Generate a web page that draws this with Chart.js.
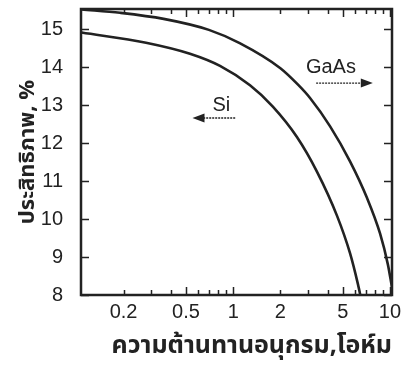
<!doctype html>
<html lang="th">
<head>
<meta charset="utf-8">
<title>Efficiency vs series resistance</title>
<script src="https://cdn.jsdelivr.net/npm/chart.js@4.4.0/dist/chart.umd.min.js"></script>
<style>
    body { margin: 0; background: #fff; }
</style>
</head>
<body>
<canvas id="chart" width="403" height="365"></canvas>

<script>
    // series resistance (ohm) and efficiency (%)
    var gaasR = [0.108, 0.19, 0.36, 0.7, 1.1, 2.0, 2.6, 3.1, 4.15, 5.56, 7.13, 8.64, 9.7, 10.3];
    var gaasEff = [15.52, 15.43, 15.27, 14.98, 14.63, 13.97, 13.53, 13.18, 12.44, 11.52, 10.56, 9.62, 8.80, 8.20];

    var siR = [0.108, 0.278, 0.53, 0.824, 1.28, 1.79, 2.55, 3.42, 4.59, 5.56, 6.25, 6.53];
    var siEff = [14.91, 14.64, 14.35, 14.03, 13.52, 12.96, 12.16, 11.25, 10.09, 9.10, 8.28, 7.92];

    var xTickLabels = [0.2, 0.5, 1, 2, 5, 10];
    var xMinorTicks = [0.2, 0.3, 0.4, 0.5, 0.6, 0.7, 0.8, 0.9, 1, 2, 3, 4, 5, 6, 7, 8, 9, 10];
    var xLongTicks = [0.5, 1, 5, 10];
    var yTickLabels = [8, 9, 10, 11, 12, 13, 14, 15];

    var ink = '#222';
    var tickFont = { family: "'Liberation Sans', Arial, sans-serif", size: 20 };
    var thaiFont = "'Noto Sans Thai', 'Noto Sans Thai UI', Loma, Garuda, 'Tlwg Typo', sans-serif";

    function points(xs, ys) {
        return xs.map(function(v, i) { return { x: v, y: ys[i] }; });
    }

    // frame with inward ticks on all four sides, plus the GaAs / Si labels
    var frameTicks = {
        id: 'frameTicks',
        afterDatasetsDraw: function(chart) {
            var ctx = chart.ctx;
            var a = chart.chartArea;
            var x = chart.scales.x;
            var y = chart.scales.y;
            ctx.save();
            ctx.strokeStyle = ink;
            ctx.lineWidth = 1.5;
            ctx.beginPath();
            xMinorTicks.forEach(function(v) {
                var px = Math.round(x.getPixelForValue(v)) + 0.5;
                var len = xLongTicks.indexOf(v) >= 0 ? 8 : 5;
                ctx.moveTo(px, a.bottom);
                ctx.lineTo(px, a.bottom - len);
                ctx.moveTo(px, a.top);
                ctx.lineTo(px, a.top + len);
            });
            yTickLabels.forEach(function(v) {
                var py = Math.round(y.getPixelForValue(v)) + 0.5;
                ctx.moveTo(a.left, py);
                ctx.lineTo(a.left + 8, py);
                ctx.moveTo(a.right, py);
                ctx.lineTo(a.right - 8, py);
            });
            ctx.stroke();

            ctx.lineWidth = 2.5;
            ctx.strokeRect(a.left, a.top, a.right - a.left, a.bottom - a.top);

            // labels and arrows
            ctx.fillStyle = ink;
            ctx.font = "20px 'Liberation Sans', Arial, sans-serif";
            ctx.textAlign = 'center';
            ctx.textBaseline = 'middle';
            ctx.fillText('GaAs', x.getPixelForValue(4.2), y.getPixelForValue(14.0));
            ctx.fillText('Si', x.getPixelForValue(0.84), y.getPixelForValue(13.0));

            arrow(ctx, x.getPixelForValue(3.38), x.getPixelForValue(7.77), y.getPixelForValue(13.58));
            arrow(ctx, x.getPixelForValue(1.03), x.getPixelForValue(0.55), y.getPixelForValue(12.66));
            ctx.restore();
        }
    };

    function arrow(ctx, x0, x1, py) {
        var dir = x1 > x0 ? 1 : -1;
        ctx.lineWidth = 1.3;
        ctx.setLineDash([2, 1]);
        ctx.beginPath();
        ctx.moveTo(x0, py);
        ctx.lineTo(x1 - dir * 8, py);
        ctx.stroke();
        ctx.setLineDash([]);
        ctx.beginPath();
        ctx.moveTo(x1, py);
        ctx.lineTo(x1 - dir * 12, py - 4.5);
        ctx.lineTo(x1 - dir * 12, py + 4.5);
        ctx.closePath();
        ctx.fill();
    }

    var lineStyle = {
        borderColor: ink,
        borderWidth: 2.6,
        pointRadius: 0,
        showLine: true,
        fill: false,
        cubicInterpolationMode: 'monotone'
    };

    var config = {
        type: 'scatter',
        data: {
            datasets: [
                Object.assign({ label: 'GaAs', data: points(gaasR, gaasEff) }, lineStyle),
                Object.assign({ label: 'Si', data: points(siR, siEff) }, lineStyle)
            ]
        },
        options: {
            responsive: false,
            animation: false,
            layout: { padding: { top: 9, right: 11, left: 0, bottom: 0 } },
            plugins: {
                legend: { display: false },
                tooltip: { enabled: false }
            },
            scales: {
                x: {
                    type: 'logarithmic',
                    min: 0.107,
                    max: 10.3,
                    grid: { display: false },
                    border: { display: false },
                    afterBuildTicks: function(scale) {
                        scale.ticks = xTickLabels.map(function(v) { return { value: v }; });
                    },
                    afterFit: function(scale) {
                        scale.height = 70;
                        scale.paddingLeft = 0;
                        scale.paddingRight = 0;
                    },
                    ticks: {
                        color: ink,
                        font: tickFont,
                        padding: -3,
                        maxRotation: 0,
                        autoSkip: false,
                        callback: function(v) { return String(v); }
                    },
                    title: {
                        display: true,
                        text: 'ความต้านทานอนุกรม,โอห์ม',
                        color: ink,
                        align: 'end',
                        font: { family: thaiFont, size: 25, weight: 'bold' },
                        padding: { top: 0, bottom: 2 }
                    }
                },
                y: {
                    min: 8,
                    max: 15.53,
                    grid: { display: false },
                    border: { display: false },
                    afterBuildTicks: function(scale) {
                        scale.ticks = yTickLabels.map(function(v) { return { value: v }; });
                    },
                    afterFit: function(scale) {
                        scale.width = 81;
                        scale.paddingTop = 0;
                        scale.paddingBottom = 0;
                    },
                    ticks: {
                        color: ink,
                        font: tickFont,
                        padding: 10
                    },
                    title: {
                        display: true,
                        text: 'ประสิทธิภาพ, %',
                        color: ink,
                        font: { family: thaiFont, size: 22, weight: 'bold' },
                        padding: { top: 16, bottom: 0 }
                    }
                }
            }
        },
        plugins: [frameTicks]
    };

    window.onload = function() {
        var ctx = document.getElementById('chart').getContext('2d');
        window.myChart = new Chart(ctx, config);
    };
</script>
</body>
</html>
